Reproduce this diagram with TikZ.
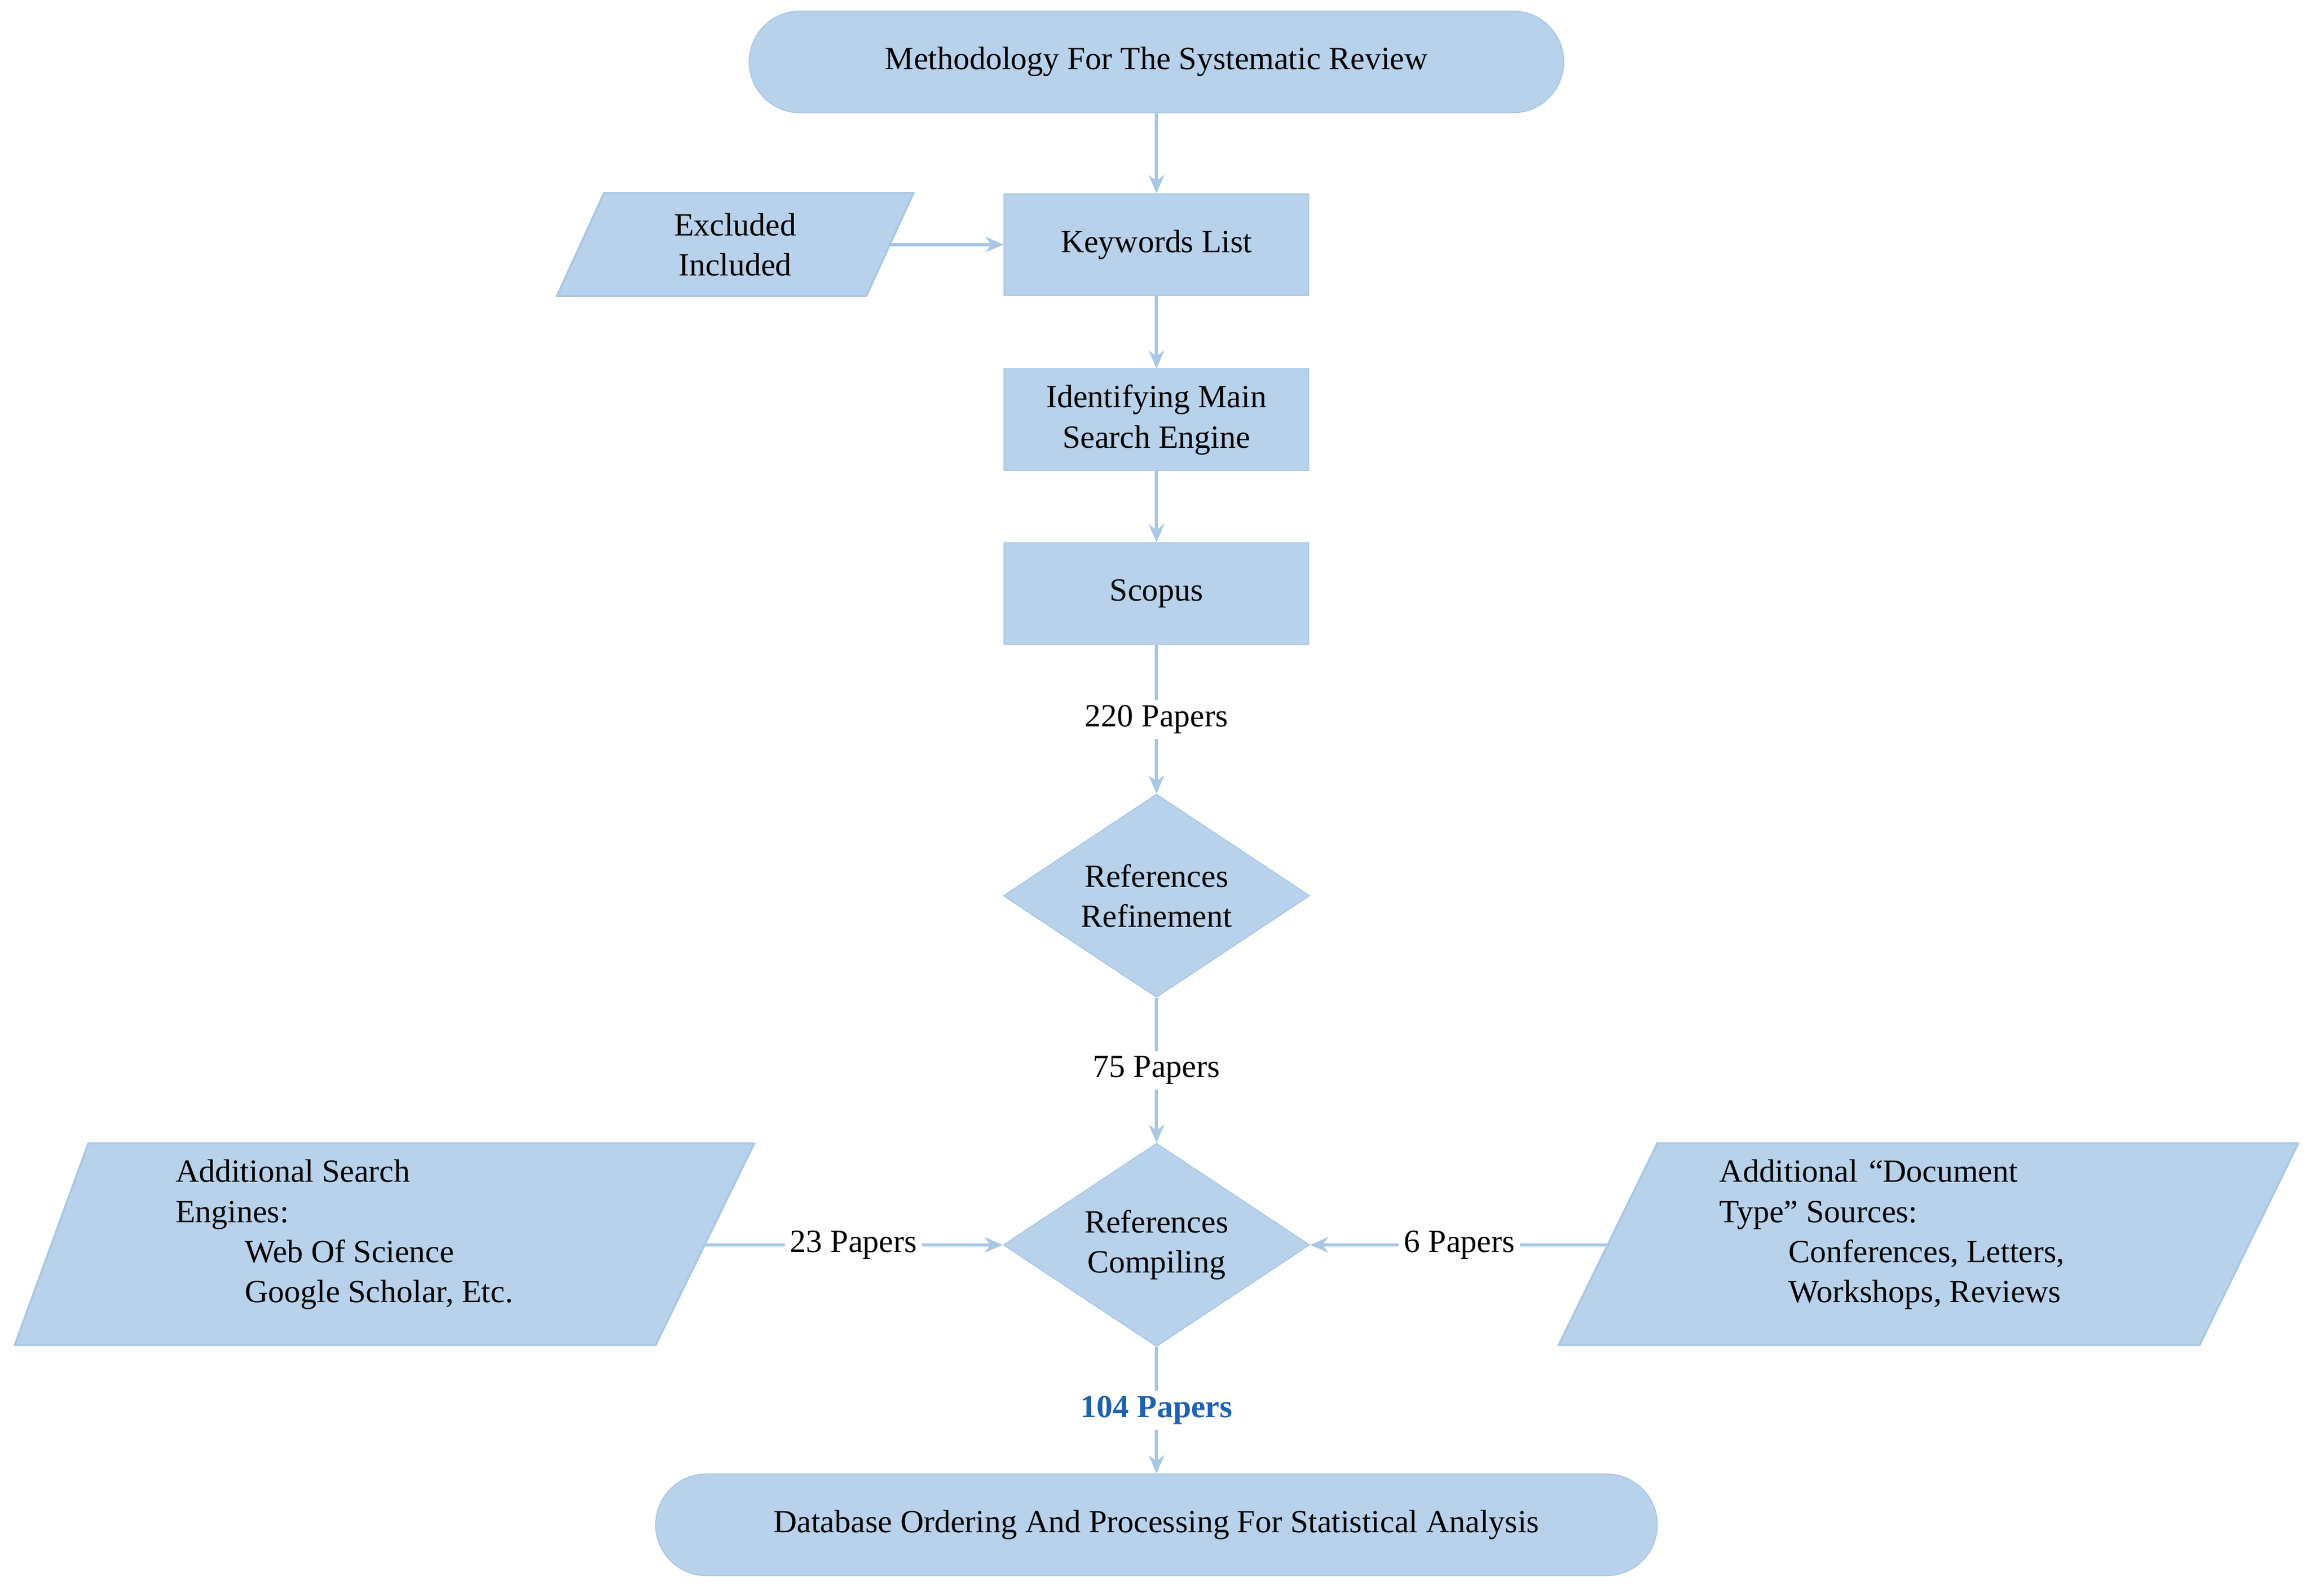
\documentclass[tikz,border=0pt]{standalone}
\usepackage{fontspec}
\setmainfont{Liberation Serif}
\usetikzlibrary{shapes.geometric,arrows.meta}
\definecolor{fillb}{HTML}{B7D2EA}
\definecolor{lineb}{HTML}{A9C8E6}
\definecolor{txtb}{HTML}{1F62B0}
\begin{document}
\begin{tikzpicture}[x=0.02cm,y=-0.02cm,font=\fontsize{12.5}{15.5}\selectfont,
  box/.style={draw=lineb,fill=fillb,minimum width=4.14cm,minimum height=1.38cm,align=center,inner sep=0pt},
  term/.style={draw=lineb,fill=fillb,rounded corners=0.69cm,minimum height=1.38cm,align=center},
  dia/.style={draw=lineb,fill=fillb,diamond,minimum width=4.16cm,minimum height=2.76cm,align=center,inner sep=0pt,aspect=1.5},
  para/.style={draw=lineb,fill=fillb,line width=0.8pt},
  arr/.style={draw=lineb,line width=1.2pt,-{Stealth[length=7pt,width=6pt]}},
  lab/.style={fill=white,inner sep=2pt}]
\useasboundingbox (0,0) rectangle (1568,1083);
\node[term,minimum width=11.06cm] (t1) at (785,42) {Methodology For The Systematic Review};
\node[box] (kw) at (785,166) {Keywords List};
\node[box] (id) at (785,285) {Identifying Main\\Search Engine};
\node[box] (sc) at (785,403) {Scopus};
\node[dia] (d1) at (785,608) {References\\Refinement};
\node[dia] (d2) at (785,845) {References\\Compiling};
\node[term,minimum width=13.6cm] (t2) at (785,1035) {Database Ordering And Processing For Statistical Analysis};
% parallelograms
\draw[para] (410,131) -- (620,131) -- (588,201) -- (378,201) -- cycle;
\node[align=center] (ex) at (499,166) {Excluded\\Included};
\coordinate (exr) at (604,166);
\draw[para] (60,776) -- (512,776) -- (445,913) -- (10,913) -- cycle;
\node[align=left,anchor=north west] (lp) at (113,781) {Additional Search\\Engines:\\\hspace*{0.94cm}Web Of Science\\\hspace*{0.94cm}Google Scholar, Etc.};
\coordinate (lpr) at (478,845);
\draw[para] (1125,776) -- (1560,776) -- (1493,913) -- (1058,913) -- cycle;
\node[align=left,anchor=north west] (rp) at (1161,781) {Additional\,\,``Document\\Type'' Sources:\\\hspace*{0.94cm}Conferences, Letters,\\\hspace*{0.94cm}Workshops, Reviews};
\coordinate (rpl) at (1092,845);
% connectors
\draw[arr] (t1) -- (kw);
\draw[arr] (exr) -- (kw);
\draw[arr] (kw) -- (id);
\draw[arr] (id) -- (sc);
\draw[arr] (sc) -- node[lab] (l220) {220 Papers} (d1);
\draw[arr] (d1) -- node[lab] (l75) {75 Papers} (d2);
\draw[arr] (lpr) -- node[lab,pos=0.5] (l23) {23 Papers} (d2);
\draw[arr] (rpl) -- node[lab,pos=0.5] (l6) {6 Papers} (d2);
\draw[arr] (d2) -- node[lab,text=txtb,font=\fontsize{12.5}{15.5}\selectfont\bfseries] (l104) {104 Papers} (t2);
\end{tikzpicture}
\end{document}
